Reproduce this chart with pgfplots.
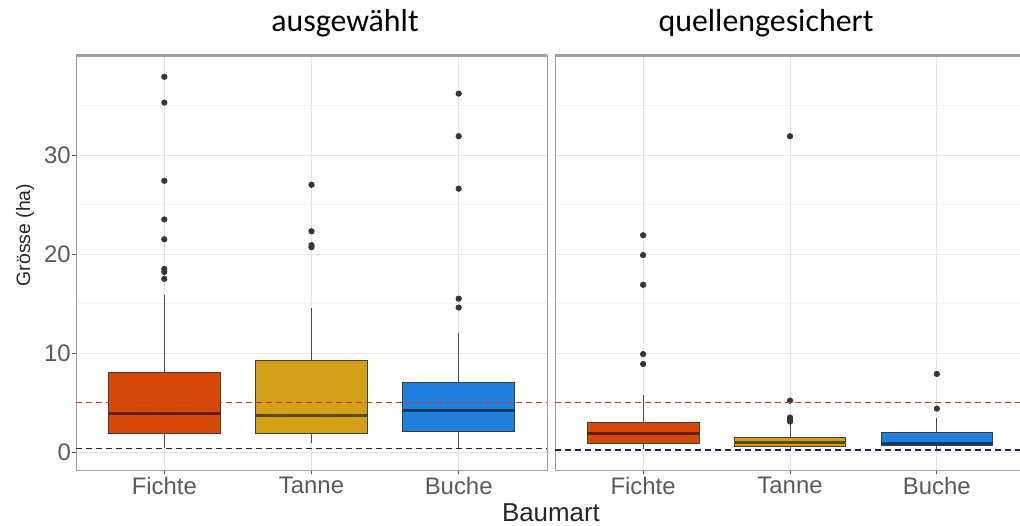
\documentclass[border=0pt]{standalone}
\usepackage{fontspec}
\setmainfont{Liberation Sans}
\newfontfamily\carlito{Carlito}
\usepackage{pgfplots}
\pgfplotsset{compat=1.18}
\usepgfplotslibrary{statistics}

\definecolor{fichte}{RGB}{214,72,8}
\definecolor{tanne}{RGB}{212,160,24}
\definecolor{buche}{RGB}{30,128,220}
\definecolor{refline}{RGB}{195,60,50}
\definecolor{lowline}{RGB}{35,35,80}
\definecolor{tickgray}{RGB}{90,90,90}
\definecolor{border}{RGB}{160,160,160}
\definecolor{gridmaj}{RGB}{230,230,230}
\definecolor{gridmin}{RGB}{243,243,243}
\definecolor{dot}{RGB}{55,55,55}

\pgfplotsset{
  panel/.style={
    scale only axis, width=470bp, height=414bp,
    xmin=0.4, xmax=3.6, ymin=-1.8, ymax=40,
    xtick={1,2,3}, xticklabels={Fichte,Tanne,Buche},
    ytick={0,10,20,30}, minor ytick={5,15,25,35},
    xmajorgrids, ymajorgrids, yminorgrids,
    major grid style={gridmaj, line width=0.8pt},
    minor grid style={gridmin, line width=0.6pt},
    axis line style={border, line width=1pt},
    tick align=outside, major tick length=4bp, minor tick length=0pt,
    tick style={tickgray, line width=0.8pt},
    xtick pos=lower, ytick pos=left,
    ticklabel style={font=\fontsize{24}{26}\selectfont, text=tickgray},
    yticklabel style={inner xsep=1bp},
    /pgf/number format/assume math mode=true,
    clip mode=individual,
    boxplot/draw direction=y,
    boxplot/whisker extend=0, boxplot/box extend=0.76,
  },
  bx/.style={draw=black!75, line width=0.8bp, fill=#1, solid,
    mark=*, mark options={draw=dot, fill=dot, mark size=2.7bp, solid},
    boxplot/every median/.style={draw=#1!45!black, line width=2.5bp},
    boxplot/every whisker/.style={draw=black!70, line width=0.8bp}},
  hl/.style={#1, dash pattern=on 6bp off 4bp, line width=1.4bp},
}

\begin{document}
\begin{tikzpicture}
\path[use as bounding box] (0,0) rectangle (1020bp,526bp);

% left panel: ausgewaehlt
\begin{axis}[panel, width=471bp, at={(76bp,56bp)}, anchor=south west]
  \addplot[bx=fichte, boxplot prepared={draw position=1, lower whisker=0.4,
    lower quartile=1.9, median=3.9, upper quartile=8.1, upper whisker=15.9}]
    coordinates {(0,37.9) (0,35.3) (0,27.4) (0,23.5) (0,21.5) (0,18.5) (0,18.2) (0,17.5)};
  \addplot[bx=tanne, boxplot prepared={draw position=2, lower whisker=0.9,
    lower quartile=1.9, median=3.7, upper quartile=9.3, upper whisker=14.6}]
    coordinates {(0,27.0) (0,22.3) (0,20.9) (0,20.7)};
  \addplot[bx=buche, boxplot prepared={draw position=3, lower whisker=0.4,
    lower quartile=2.1, median=4.2, upper quartile=7.0, upper whisker=12.0}]
    coordinates {(0,36.2) (0,31.9) (0,26.6) (0,15.5) (0,14.6)};
  \addplot[hl=refline, line width=1.2bp] coordinates {(0.4,5) (3.6,5)};
  \addplot[hl=lowline] coordinates {(0.4,0.4) (3.6,0.4)};
  \draw[border, line width=3bp] (rel axis cs:0,1) -- (rel axis cs:1,1);
\end{axis}

% right panel: quellengesichert
\begin{axis}[panel, at={(555bp,56bp)}, anchor=south west,
  yticklabels={}, ytick style={draw=none}]
  \addplot[bx=fichte, boxplot prepared={draw position=1, lower whisker=0.3,
    lower quartile=0.9, median=1.9, upper quartile=3.0, upper whisker=5.8}]
    coordinates {(0,21.9) (0,19.9) (0,16.9) (0,9.9) (0,8.9)};
  \addplot[bx=tanne, boxplot prepared={draw position=2, lower whisker=0.2,
    lower quartile=0.6, median=1.0, upper quartile=1.5, upper whisker=2.8}]
    coordinates {(0,31.9) (0,5.2) (0,3.5) (0,3.3) (0,3.1)};
  \addplot[bx=buche, boxplot prepared={draw position=3, lower whisker=0.2,
    lower quartile=0.7, median=0.9, upper quartile=2.0, upper whisker=3.5}]
    coordinates {(0,7.9) (0,4.4)};
  \addplot[hl=refline, line width=1.2bp] coordinates {(0.4,5) (3.6,5)};
  \addplot[hl=lowline] coordinates {(0.4,0.2) (3.6,0.2)};
  \draw[border, line width=3bp] (rel axis cs:0,1) -- (rel axis cs:1,1);
\end{axis}

\node[font=\carlito\fontsize{32}{34}\selectfont, anchor=base] at (345bp,494bp) {ausgewählt};
\node[font=\carlito\fontsize{32}{34}\selectfont, anchor=base] at (766bp,494bp) {quellengesichert};
\node[rotate=90, font=\fontsize{19.5}{22}\selectfont, text=black!85] at (25bp,291bp) {Grösse (ha)};
\node[font=\fontsize{26}{28}\selectfont, text=black!85] at (551bp,13bp) {Baumart};
\end{tikzpicture}
\end{document}
